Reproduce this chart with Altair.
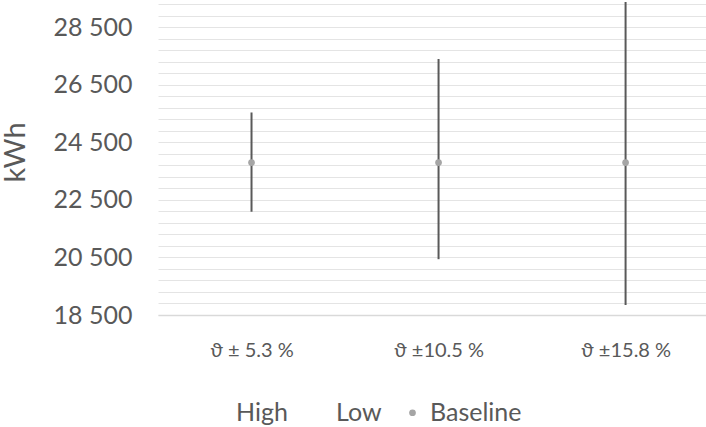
import json
import altair as alt
import pandas as pd

categories = ["ϑ ± 5.3 %", "ϑ ±10.5 %", "ϑ ±15.8 %"]
high = [25540, 27400, 29380]
low = [22090, 20440, 18850]
baseline = [23800, 23800, 23800]
series = ["High", "Low", "Baseline"]
y_min, y_max = 18500, 29450
grid_step = 400
label_step = 2000

df = pd.DataFrame({
    "idx": list(range(len(categories))),
    "category": categories,
    "high": high,
    "low": low,
    "baseline": baseline,
    "series": ["Baseline"] * len(categories),
})

grid_vals = list(range(y_min, 29301, grid_step))
label_expr_x = json.dumps(categories, ensure_ascii=False) + "[datum.value]"
label_expr_y = (f"(datum.value - {y_min}) % {label_step} == 0 ? "
                "replace(format(datum.value, ','), ',', ' ') : ''")

FONT = "Lato"
TXT = "#595959"

x_enc = alt.X(
    "idx:Q",
    scale=alt.Scale(domain=[-0.5, 2.43], nice=False, zero=False),
    axis=alt.Axis(values=[0, 1, 2], labelExpr=label_expr_x, title=None,
                  grid=False, ticks=False, domainColor="#d9d9d9", domainWidth=1.5,
                  labelFont=FONT, labelFontSize=20, labelColor=TXT,
                  labelPadding=25, labelOverlap=False),
)
y_scale = alt.Scale(domain=[y_min, y_max], nice=False, zero=False)
y_axis = alt.Axis(values=grid_vals, labelExpr=label_expr_y, title="kWh",
                  titleFont=FONT, titleFontSize=29, titleFontWeight="normal",
                  titleColor=TXT, titleX=-143, titleY=152, titleBaseline="middle",
                  titleAlign="center", titleAngle=270,
                  labelFont=FONT, labelFontSize=25, labelColor=TXT,
                  labelPadding=26, labelOverlap=False, ticks=False, domain=False,
                  gridColor="#e4e4e4", gridWidth=1)

rules = alt.Chart(df).mark_rule(color="#595959", strokeWidth=2).encode(
    x=x_enc,
    y=alt.Y("low:Q", scale=y_scale, axis=y_axis),
    y2="high:Q",
)
points = alt.Chart(df).mark_circle(size=45, opacity=1).encode(
    x=x_enc,
    y=alt.Y("baseline:Q", scale=y_scale, axis=y_axis),
    color=alt.Color("series:N",
                    scale=alt.Scale(domain=series,
                                    range=["rgba(0,0,0,0)", "rgba(0,0,0,0)", "#a5a5a5"]),
                    legend=alt.Legend(orient="none", legendX=48, legendY=400,
                                      direction="horizontal", title=None,
                                      labelFont=FONT, labelFontSize=25, labelColor=TXT,
                                      symbolSize=45, symbolType="circle",
                                      columnPadding=18, labelOffset=5)),
)

chart = (rules + points).properties(
    width=548, height=315,
    autosize=alt.AutoSizeParams(type="none"),
    padding={"left": 158, "top": 0, "right": 0, "bottom": 112},
    background="white",
).configure_view(stroke=None)

chart.save("out.html", embed_options={"renderer": "svg", "actions": False})
